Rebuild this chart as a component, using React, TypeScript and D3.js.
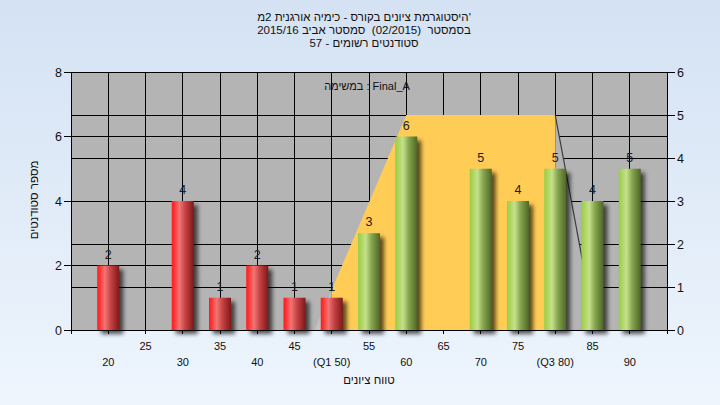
import React from 'react';
import * as d3 from 'd3';

const categories = [20, 25, 30, 35, 40, 45, 50, 55, 60, 65, 70, 75, 80, 85, 90];
const counts = [2, 0, 4, 1, 2, 1, 1, 3, 6, 0, 5, 4, 5, 4, 5];
const tickLabels = ['20', '25', '30', '35', '40', '45', '(Q1 50)', '55', '60', '65', '70', '75', '(Q3 80)', '85', '90'];
const leftTicks = [0, 2, 4, 6, 8];
const rightTicks = [0, 1, 2, 3, 4, 5, 6];
const bandX = [47.7, 60, 80, 85.4];
const bandY = [0, 5, 5, 0];
const q1 = 50;
const q3 = 80;
const titleLines = [
  "היסטוגרמת ציונים בקורס - כימיה אורגנית 2מ'",
  'בסמסטר  (02/2015)  סמסטר אביב 2015/16',
  'סטודנטים רשומים - 57',
];
const subtitle = 'במשימה : Final_A';
const yTitle = 'מספר סטודנטים';
const xTitle = 'טווח ציונים';

const W = 720;
const H = 405;
const L = 71, R = 667, T = 72, B = 330;
const FONT = "'Liberation Sans', 'DejaVu Sans', Arial, sans-serif";

export default function App() {
  const x = d3.scaleLinear().domain([15, 95]).range([L, R]);
  const yL = d3.scaleLinear().domain([0, 8]).range([B, T]);
  const yR = d3.scaleLinear().domain([0, 6]).range([B, T]);
  const barW = 22;

  const bandPts: [number, number][] = bandX.map((v, i) => [x(v), yR(bandY[i])]);
  const bandPath = d3.line()(bandPts) + 'Z';
  const rightEdge = d3.line()([bandPts[2], bandPts[3]]);

  const vGrid = d3.range(15, 96, 5);

  return (
    <svg width={W} height={H} style={{ position: 'fixed', left: 0, top: 0 }} fontFamily={FONT}>
      <defs>
        <linearGradient id="bg" x1="0" y1="0" x2="0" y2="1">
          <stop offset="0" stopColor="#d4e2f3" />
          <stop offset="1" stopColor="#eef5fd" />
        </linearGradient>
        <linearGradient id="red" x1="0" y1="0" x2="1" y2="0">
          <stop offset="0" stopColor="#ff1c1c" />
          <stop offset="0.12" stopColor="#ff3434" />
          <stop offset="0.35" stopColor="#f07676" />
          <stop offset="0.6" stopColor="#c84444" />
          <stop offset="1" stopColor="#7e1818" />
        </linearGradient>
        <linearGradient id="green" x1="0" y1="0" x2="1" y2="0">
          <stop offset="0" stopColor="#9ccc48" />
          <stop offset="0.12" stopColor="#a8d458" />
          <stop offset="0.35" stopColor="#c6e08e" />
          <stop offset="0.6" stopColor="#88a850" />
          <stop offset="1" stopColor="#4e6626" />
        </linearGradient>
        <filter id="blur" x="-50%" y="-50%" width="200%" height="200%">
          <feGaussianBlur stdDeviation="2" />
        </filter>
        <clipPath id="cLeft">
          <rect x={L} y={T} width={x(q1) - L} height={B - T} />
        </clipPath>
        <clipPath id="cMid">
          <rect x={x(q1)} y={T} width={x(q3) - x(q1)} height={B - T} />
        </clipPath>
        <clipPath id="cRight">
          <rect x={x(q3)} y={T} width={R - x(q3)} height={B - T} />
        </clipPath>
      </defs>

      <rect x={0} y={0} width={W} height={H} fill="url(#bg)" />
      <rect x={L} y={T} width={R - L} height={B - T} fill="#b4b4b4" />

      {/* grid */}
      {vGrid.map((v) => (
        <line key={'vg' + v} x1={x(v)} x2={x(v)} y1={T} y2={B} stroke="#000" strokeWidth={1} shapeRendering="crispEdges" />
      ))}
      {leftTicks.map((t) => (
        <line key={'hl' + t} x1={L} x2={R} y1={yL(t)} y2={yL(t)} stroke="#000" strokeWidth={1} shapeRendering="crispEdges" />
      ))}
      {rightTicks.map((t) => (
        <line key={'hr' + t} x1={L} x2={R} y1={yR(t)} y2={yR(t)} stroke="#000" strokeWidth={1} shapeRendering="crispEdges" />
      ))}

      {/* band */}
      <path d={bandPath} fill="#c2c2c2" clipPath="url(#cLeft)" />
      <path d={bandPath} fill="#ffcc55" clipPath="url(#cMid)" />
      <path d={bandPath} fill="#b4b4b4" clipPath="url(#cRight)" />
      <path d={rightEdge || ''} stroke="#3a3a3a" strokeWidth={1.2} fill="none" />

      {/* shadows */}
      {categories.map((c, i) =>
        counts[i] > 0 ? (
          <rect key={'s' + c} x={x(c) - barW / 2 + 4} y={yL(counts[i]) + 4} width={barW} height={B - yL(counts[i])}
            fill="#000" opacity={0.65} filter="url(#blur)" />
        ) : null
      )}
      {/* bars */}
      {categories.map((c, i) =>
        counts[i] > 0 ? (
          <rect key={'b' + c} x={x(c) - barW / 2} y={yL(counts[i])} width={barW} height={B - yL(counts[i])}
            fill={c <= q1 ? 'url(#red)' : 'url(#green)'} />
        ) : null
      )}
      {categories.map((c, i) =>
        counts[i] > 0 ? (
          <text key={'l' + c} x={x(c)} y={yL(counts[i]) - 7} textAnchor="middle" fontSize={12.5} fill="#1c1c24">
            {counts[i]}
          </text>
        ) : null
      )}

      {/* axes */}
      <rect x={L} y={T} width={R - L} height={B - T} fill="none" stroke="#000" strokeWidth={1} shapeRendering="crispEdges" />
      {vGrid.map((v) => (
        <line key={'bt' + v} x1={x(v)} x2={x(v)} y1={B} y2={B + 4} stroke="#000" shapeRendering="crispEdges" />
      ))}
      {leftTicks.map((t) => (
        <g key={'lt' + t}>
          <line x1={L - 7} x2={L} y1={yL(t)} y2={yL(t)} stroke="#000" shapeRendering="crispEdges" />
          <text x={L - 9} y={yL(t) + 4.5} textAnchor="end" fontSize={12.5} fill="#111">{t}</text>
        </g>
      ))}
      {rightTicks.map((t) => (
        <g key={'rt' + t}>
          <line x1={R} x2={R + 8} y1={yR(t)} y2={yR(t)} stroke="#000" shapeRendering="crispEdges" />
          <text x={R + 10} y={yR(t) + 4.5} textAnchor="start" fontSize={12.5} fill="#111">{t}</text>
        </g>
      ))}
      {categories.map((c, i) => (
        <text key={'xt' + c} x={x(c)} y={i % 2 === 1 ? 350 : 366} textAnchor="middle" fontSize={11} fill="#111">
          {tickLabels[i]}
        </text>
      ))}

      {/* titles */}
      {titleLines.map((t, i) => (
        <text key={'t' + i} x={364} y={20.5 + i * 13} textAnchor="middle" fontSize={11.5} fill="#111"
          style={{ whiteSpace: 'pre' }}>{t}</text>
      ))}
      <text x={367} y={90} textAnchor="middle" fontSize={11} fill="#111" style={{ whiteSpace: 'pre' }}>{subtitle}</text>
      <text x={369} y={384} textAnchor="middle" fontSize={11.5} fill="#111">{xTitle}</text>
      <text transform={`translate(38,200) rotate(-90)`} textAnchor="middle" fontSize={11.5} fill="#111">{yTitle}</text>
    </svg>
  );
}
